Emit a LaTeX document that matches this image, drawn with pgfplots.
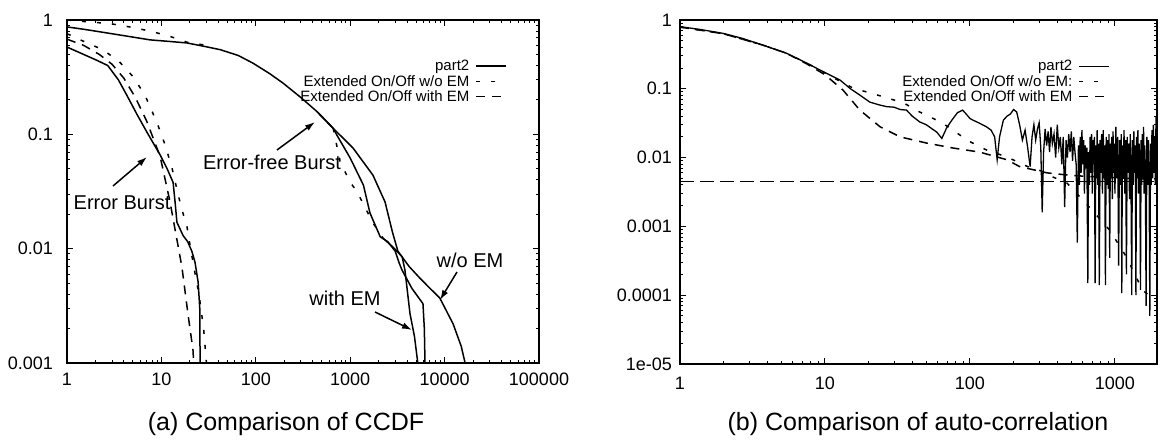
\documentclass[border=0pt]{standalone}
\usepackage{fontspec}
\setmainfont{Liberation Sans}
\usepackage{pgfplots}
\pgfplotsset{compat=1.18}
\usetikzlibrary{arrows.meta}
\pgfplotsset{
  mybase/.style={
    scale only axis, clip=true,
    axis line style={line width=2pt},
    tick style={line width=1pt, black},
    major tick length=6pt, minor tick length=3pt, tick align=inside,
    tick label style={font=\fontsize{18}{18}\selectfont},
    xticklabel style={inner sep=0pt, anchor=north},
    yticklabel style={inner sep=0pt, anchor=east},
    every axis plot/.append style={black, line width=1.5pt, no markers},
    legend cell align=right, legend plot pos=right,
    legend image code/.code={\draw[##1] (0pt,0pt) -- (30pt,0pt);},
  },
  wo/.style={dash pattern=on 4pt off 11pt},
  we/.style={dash pattern=on 9pt off 7pt},
}
\begin{document}
\begin{tikzpicture}
\path[use as bounding box] (0pt,0pt) rectangle (1160pt,444pt);

% ---------------- (a) CCDF ----------------
\begin{loglogaxis}[mybase, at={(67pt,81pt)}, anchor=south west, width=472pt, height=343pt,
  xmin=1, xmax=100000, ymin=0.001, ymax=1,
  xtick={1,10,100,1000,10000,100000}, xticklabels={1,10,100,1000,10000,100000},
  ytick={0.001,0.01,0.1,1}, yticklabels={0.001,0.01,0.1,1},
  xticklabel style={yshift=-10pt}, yticklabel style={xshift=-14pt},
  legend style={draw=none, fill=none, inner sep=0pt, row sep=1pt, column sep=5pt,
      font=\fontsize{15}{16}\selectfont, nodes={inner sep=1pt},
      at={(1,1)}, anchor=north east, xshift=-32pt, yshift=-39pt}]
% error burst
\addplot[solid] coordinates {(1,0.58) (2,0.45) (2.7,0.40) (3.5,0.3) (4.3,0.22) (5.5,0.15) (7,0.105) (9.7,0.066) (11.5,0.05) (13.3,0.038) (14,0.025) (14.6,0.017) (17,0.013) (19,0.0115) (21,0.0095) (22.7,0.0076) (24.5,0.0051) (25.5,0.003) (25.7,0.001)};
\addlegendentry{part2}
\addplot[wo] coordinates {(1,0.76) (1.63,0.63) (2.4,0.55) (3.6,0.43) (5,0.32) (6.7,0.22) (9,0.126) (11,0.08) (13,0.05) (15,0.03) (16.5,0.022) (18.7,0.0154) (20,0.011) (22,0.007) (25,0.004) (28,0.002) (30,0.001)};
\addlegendentry{Extended On/Off w/o EM}
\addplot[we] coordinates {(1,0.68) (1.5,0.6) (2.2,0.5) (3,0.41) (4,0.31) (5.3,0.21) (7,0.13) (9.7,0.064) (12.3,0.026) (13.9,0.015) (16.5,0.0069) (19.1,0.0027) (21.6,0.0013) (22,0.001)};
\addlegendentry{Extended On/Off with EM}
% error-free burst
\addplot[solid, forget plot] coordinates {(1,0.87) (1.5,0.83) (2.2,0.79) (4,0.73) (7.6,0.67) (12,0.65) (18.6,0.63) (28,0.59) (42,0.55) (65,0.49) (93,0.42) (140,0.34) (195,0.28) (300,0.21) (445,0.158) (660,0.113) (720,0.099) (1000,0.062) (1380,0.036) (1620,0.0205) (2080,0.0127) (2500,0.0115) (3000,0.0095) (3300,0.0075) (3540,0.0065) (4500,0.0045) (5900,0.0033) (6100,0.002) (6200,0.001)};
\addplot[wo, forget plot] coordinates {(1,1) (1.75,0.96) (2.85,0.93) (4.6,0.87) (7.6,0.8) (12.3,0.72) (18.6,0.64) (30,0.6)};
\addplot[solid, forget plot] coordinates {(445,0.158) (660,0.113) (1070,0.076) (1740,0.044) (2340,0.0256) (2800,0.014) (3200,0.0095) (4200,0.007) (5500,0.0055) (7000,0.0045) (8900,0.0037) (12300,0.0022) (15000,0.0014) (16500,0.001)};
\addplot[wo, forget plot] coordinates {(660,0.113) (720,0.08) (780,0.058) (1000,0.038) (1170,0.032) (1750,0.0167) (2240,0.0123)};
\addplot[solid, forget plot] coordinates {(2240,0.0123) (2850,0.0103) (3550,0.0085) (3800,0.0065) (4300,0.0027) (4800,0.0017) (5200,0.001)};
\end{loglogaxis}

% ---------------- (b) auto-correlation ----------------
\begin{loglogaxis}[mybase, at={(680pt,80pt)}, anchor=south west, width=477pt, height=344pt,
  xmin=1, xmax=1950, ymin=0.00001, ymax=1,
  xtick={1,10,100,1000}, xticklabels={1,10,100,1000},
  ytick={0.00001,0.0001,0.001,0.01,0.1,1}, yticklabels={1e-05,0.0001,0.001,0.01,0.1,1},
  xticklabel style={yshift=-13pt}, yticklabel style={xshift=-8pt},
  legend style={draw=none, fill=none, inner sep=0pt, row sep=1pt, column sep=5pt,
      font=\fontsize{15}{16}\selectfont, nodes={inner sep=1pt},
      at={(1,1)}, anchor=north east, xshift=-47pt, yshift=-39pt}]
\addplot[solid, line width=1.3pt] coordinates {(1,0.80) (1.37,0.73) (1.98,0.64) (2.7,0.54) (3.75,0.43) (5.4,0.33) (7.5,0.236) (9.2,0.188) (12.7,0.134) (15,0.1) (17.4,0.081) (20.4,0.064) (23.9,0.058) (26.7,0.055) (30,0.054) (33,0.05) (36.5,0.049) (40,0.04) (45,0.033) (50,0.03) (55,0.026) (59,0.0235) (64,0.019) (69,0.027) (75,0.035) (82,0.045) (89,0.049) (95,0.042) (100,0.037) (105,0.035) (115,0.032) (122,0.03) (130,0.028) (140,0.025) (148,0.02) (154,0.0093) (160,0.02) (170,0.035) (180,0.04) (190,0.043) (200,0.05) (210,0.046) (220,0.03) (230,0.018) (240,0.025) (250,0.014)
(260,0.0074) (268,0.02) (276,0.03) (284,0.018) (292,0.026) (300,0.032) (308,0.014) (315,0.0016) (322,0.012) (330,0.026) (338,0.015) (346,0.024) (354,0.012) (362,0.028) (370,0.016) (380,0.022) (390,0.01) (400,0.03) (410,0.014) (420,0.02) (430,0.008) (440,0.02) (450,0.0019) (460,0.018) (470,0.01) (480,0.022) (490,0.012) (500,0.024) (510,0.009) (520,0.02) (530,0.012) (540,0.008) (550,0.00058)
(560,0.015) (568,0.004) (576,0.02) (584,0.006) (592,0.025) (600,0.008) (608,0.018) (616,0.003) (624,0.015) (632,0.007) (640,0.014) (650,0.00015) (658,0.012) (666,0.004) (674,0.02) (682,0.006) (690,0.022) (698,0.003) (706,0.018) (714,0.008) (722,0.02) (730,0.00015) (738,0.015) (746,0.005) (754,0.025) (762,0.004) (770,0.016) (780,0.00014) (790,0.018) (800,0.006) (810,0.022) (820,0.003) (830,0.025) (840,0.005) (850,0.015) (860,0.00014) (870,0.02) (880,0.004) (890,0.018) (900,0.0035) (910,0.022) (920,0.00035) (930,0.016) (940,0.005) (950,0.02) (960,0.0025) (970,0.024) (980,0.006) (990,0.016) (1000,0.003) (1015,0.028) (1030,0.005) (1045,0.02) (1060,0.00027) (1075,0.018) (1090,0.004) (1105,0.022) (1115,0.000107) (1125,0.015) (1140,0.005) (1155,0.025) (1170,0.003) (1185,0.018) (1200,0.0002) (1215,0.02) (1230,0.006) (1245,0.016) (1260,0.0025) (1275,0.022) (1290,0.005) (1305,0.0001) (1320,0.018) (1335,0.004) (1350,0.024) (1365,0.006) (1380,0.015) (1395,0.0001) (1410,0.02) (1425,0.005) (1440,0.025) (1455,0.003) (1470,0.016) (1485,0.006) (1500,0.00012) (1515,0.018) (1530,0.004) (1545,0.022) (1560,0.005) (1575,0.028) (1590,0.003) (1605,0.015) (1620,0.007) (1640,0.00007) (1660,0.02) (1680,0.004) (1700,0.018) (1720,0.006) (1740,0.00005) (1760,0.016) (1780,0.004) (1800,0.025) (1820,0.005) (1840,0.03) (1860,0.006) (1880,0.02) (1900,0.004) (1920,0.04) (1940,0.008) (1950,0.02)};
\addlegendentry{part2}
\addplot[wo] coordinates {(1,0.79) (2,0.63) (3.75,0.43) (5.4,0.33) (7.5,0.236) (10,0.17) (13,0.125) (16,0.1) (19.4,0.09) (26.7,0.074) (35,0.062) (45,0.046) (59,0.035) (73,0.027) (95,0.018) (130,0.0129) (180,0.0102) (250,0.0074) (340,0.006) (375,0.0052) (465,0.0043) (545,0.003) (700,0.0017) (920,0.00088) (1200,0.00036) (1550,0.000118) (1830,0.00009) (1950,0.00008)};
\addlegendentry{Extended On/Off w/o EM:}
\addplot[we] coordinates {(1,0.79) (2,0.63) (3.75,0.43) (5.4,0.33) (7.5,0.23) (10,0.16) (13.3,0.096) (17.4,0.049) (24,0.028) (33,0.02) (50,0.0163) (76,0.0138) (117,0.012) (180,0.0093) (220,0.0074) (340,0.006) (500,0.0055) (800,0.0052) (1200,0.005) (1950,0.0048)};
\addlegendentry{Extended On/Off with EM}
\addplot[dash pattern=on 14pt off 6pt, forget plot] coordinates {(1,0.0045) (1950,0.0045)};
\end{loglogaxis}

% annotations
\begin{scope}[font=\fontsize{20}{20}\selectfont]
\node at (122pt,241pt) {Error Burst};
\node at (272pt,282pt) {Error-free Burst};
\node at (345pt,146pt) {with EM};
\node at (470pt,184pt) {w/o EM};
\end{scope}
\begin{scope}[line width=1.5pt, -{Latex[length=10pt,width=6.5pt]}]
\draw (113pt,258pt) -- (147pt,287pt);
\draw (277pt,294pt) -- (315pt,322pt);
\draw (375pt,132pt) -- (412pt,114pt);
\draw (457pt,172pt) -- (440pt,144pt);
\end{scope}
% captions
\node[font=\fontsize{25}{28}\selectfont] at (286pt,20pt) {(a) Comparison of CCDF};
\node[font=\fontsize{25}{28}\selectfont] at (918pt,20pt) {(b) Comparison of auto-correlation};
\end{tikzpicture}
\end{document}
